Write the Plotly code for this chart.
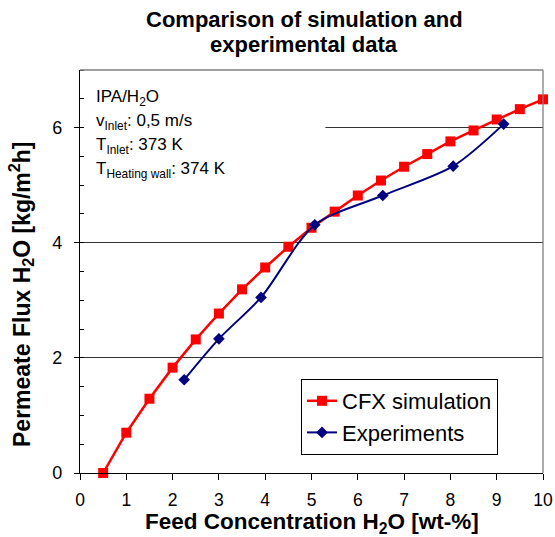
import plotly.graph_objects as go

# CFX simulation
cfx_x = [0.5, 1, 1.5, 2, 2.5, 3, 3.5, 4, 4.5, 5, 5.5, 6, 6.5, 7, 7.5, 8, 8.5, 9, 9.5, 10]
cfx_y = [0.0, 0.70, 1.29, 1.83, 2.32, 2.77, 3.19, 3.57, 3.93, 4.26, 4.54, 4.82, 5.08, 5.32, 5.54, 5.76, 5.95, 6.14, 6.32, 6.49]

# Experiments
exp_x = [2.25, 3.0, 3.91, 5.07, 6.54, 8.06, 9.15]
exp_y = [1.62, 2.33, 3.05, 4.31, 4.82, 5.33, 6.06]

x_ticks = list(range(0, 11))
y_ticks = [0, 2, 4, 6]

title_lines = ["Comparison of simulation and", "experimental data"]
info_lines = [
    "IPA/H<sub>2</sub>O",
    "v<sub>Inlet</sub>: 0,5 m/s",
    "T<sub>Inlet</sub>: 373 K",
    "T<sub>Heating wall</sub>: 374 K",
]
x_title = "Feed Concentration H<sub>2</sub>O [wt-%]"
y_title = "Permeate Flux H<sub>2</sub>O [kg/m<sup>2</sup>h]"

FONT = "Liberation Sans, Arial, sans-serif"
W, H = 555, 537
plot_top, plot_bot = 70, 473
plot_left, plot_right = 80, 543
PW, PH = plot_right - plot_left, plot_bot - plot_top


def px_x(px):
    return (px - plot_left) / PW


def px_y(py):
    return (plot_bot - py) / PH


fig = go.Figure()
fig.add_trace(go.Scatter(
    x=cfx_x, y=cfx_y, mode="lines+markers", name="CFX simulation",
    line=dict(color="#FF0000", width=2.5),
    marker=dict(symbol="square", size=10, color="#FF0000"),
    cliponaxis=False,
))
fig.add_trace(go.Scatter(
    x=exp_x, y=exp_y, mode="lines+markers", name="Experiments",
    line=dict(color="#000080", width=2, shape="spline", smoothing=0.8),
    marker=dict(symbol="diamond", size=9, color="#000080"),
    cliponaxis=False,
))

# white box behind the info text (hides part of gridline)
fig.add_shape(type="rect", xref="x", yref="y", x0=0.02, x1=5.3, y0=5.4, y1=6.95,
              fillcolor="white", line=dict(width=0), layer="between")
# top and right border in gray
fig.add_shape(type="line", xref="paper", yref="paper", x0=0, x1=1, y0=1, y1=1,
              line=dict(color="#808080", width=1.3))
fig.add_shape(type="line", xref="paper", yref="paper", x0=1, x1=1, y0=0, y1=1,
              line=dict(color="#808080", width=1.3))

# title (two lines)
for t, yc in zip(title_lines, [19, 44]):
    fig.add_annotation(x=px_x(304), y=px_y(yc), xref="paper", yref="paper",
                       xanchor="center", yanchor="middle", showarrow=False,
                       text="<b>" + t + "</b>", font=dict(size=22, family=FONT, color="black"))

# info text
for i, t in enumerate(info_lines):
    fig.add_annotation(x=px_x(94), y=px_y(98 + 24 * i), xref="paper", yref="paper",
                       xanchor="left", yanchor="middle", showarrow=False,
                       text=t, font=dict(size=17, family=FONT, color="black"))

# axis titles
fig.add_annotation(x=px_x(312), y=px_y(523), xref="paper", yref="paper",
                   xanchor="center", yanchor="middle", showarrow=False,
                   text="<b>" + x_title + "</b>", font=dict(size=22.5, family=FONT, color="black"))
fig.add_annotation(x=px_x(21), y=px_y(294), xref="paper", yref="paper",
                   xanchor="center", yanchor="middle", showarrow=False, textangle=-90,
                   text="<b>" + y_title + "</b>", font=dict(size=23, family=FONT, color="black"))

fig.update_layout(
    width=W, height=H,
    margin=dict(l=plot_left, r=W - plot_right, t=plot_top, b=H - plot_bot, autoexpand=False),
    paper_bgcolor="white", plot_bgcolor="white",
    font=dict(family=FONT, color="black"),
    xaxis=dict(range=[0, 10], tickvals=x_ticks, ticks="outside", ticklen=6, tickwidth=1,
               tickcolor="black", showline=True, linecolor="black", linewidth=1.3,
               showgrid=False, zeroline=False, tickfont=dict(size=17.5),
               ticklabelstandoff=5, automargin=False),
    yaxis=dict(range=[0, 7], tickvals=y_ticks, ticks="outside", ticklen=5, tickwidth=1,
               tickcolor="black", showline=True, linecolor="black", linewidth=1.3,
               showgrid=True, gridcolor="#333333", gridwidth=1, zeroline=False,
               tickfont=dict(size=18), ticklabelstandoff=8, automargin=False,
               minor=dict(dtick=0.5, ticks="inside", ticklen=4, tickcolor="black", showgrid=False)),
    legend=dict(x=px_x(301), y=px_y(379),
                xanchor="left", yanchor="top",
                bgcolor="white", bordercolor="black", borderwidth=1,
                font=dict(size=22, family=FONT), itemwidth=30, tracegroupgap=0),
    showlegend=True,
)

fig.write_html("out.html")
